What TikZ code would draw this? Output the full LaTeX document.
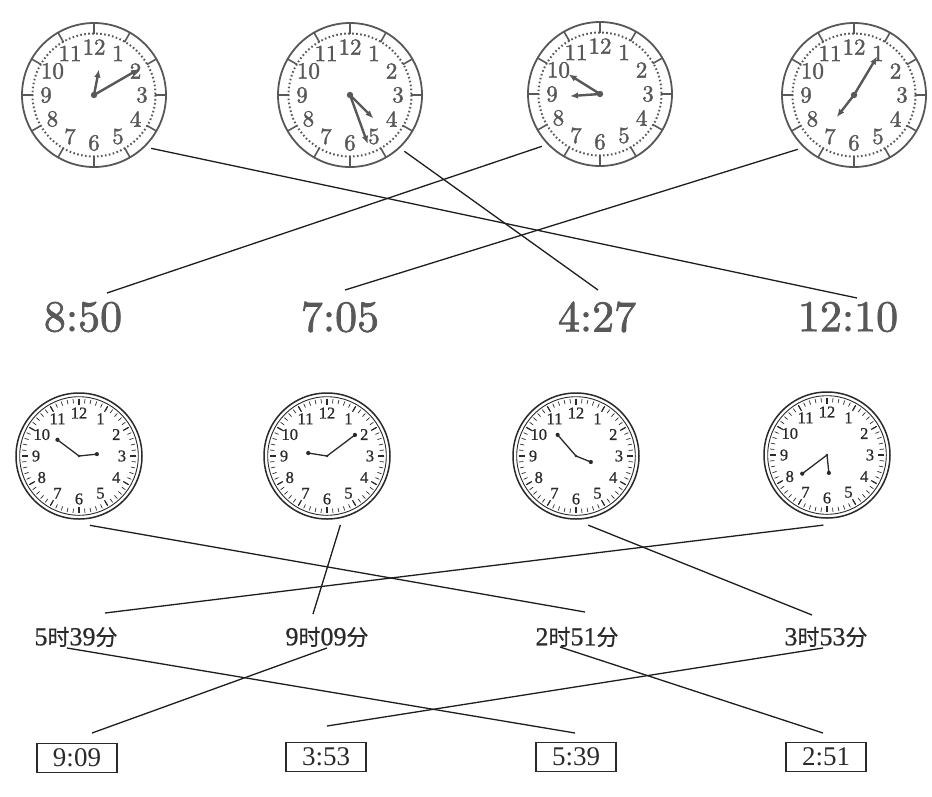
\documentclass[tikz,border=0pt]{standalone}
\usepackage{fontspec}
\newfontfamily\cjk{Noto Sans CJK SC}[FakeBold=0.6]
\newfontfamily\tms{Liberation Serif}
\newfontfamily\tmsh{Liberation Serif}[FakeBold=0.7]
\newfontfamily\heavy{lmroman10-regular.otf}[FakeBold=1.6]
\usetikzlibrary{arrows.meta}
\definecolor{clk}{HTML}{585858}
\definecolor{bk}{HTML}{2A2A2A}
\definecolor{ln}{HTML}{1E1E1E}
\tikzset{
  topnum/.style={text=clk,inner sep=0pt,font=\heavy\fontsize{23}{23}\selectfont},
  botnum/.style={text=bk,inner sep=0pt,font=\tmsh\fontsize{16.5}{16.5}\selectfont},
  tophand/.style={clk,line width=2.4pt,-{Latex[length=8pt,width=6.5pt]}},
  bothand/.style={bk,line width=1.3pt},
  toplabel/.style={text=clk,inner sep=0pt,font=\heavy\fontsize{44}{44}\selectfont},
  cnlabel/.style={text=bk,inner sep=0pt},
  boxlabel/.style={draw=bk,line width=1.2pt,text=bk,minimum width=80pt,minimum height=29pt,inner sep=0pt,font=\tms\fontsize{27}{27}\selectfont},
  link/.style={ln,line width=1.3pt},
  ring/.style={circle,inner sep=0pt,draw=none}
}
\newcommand\topclock[7]{%
  \begin{scope}[shift={(#2,#3)}]
    \node[ring,minimum size=156pt] (#1) at (0,0) {};
    \draw[clk,line width=1.8pt] (0,0) circle (72);
    \draw[clk,line width=2pt,dash pattern=on 1.6pt off 2.4pt] (0,0) circle (61.5);
    \foreach \k in {1,...,12}{
      \draw[clk,line width=1.6pt] (\k*30-90:61) -- (\k*30-90:72);
      \node[topnum] at (\k*30-90:48) {\k};
    }
    \draw[tophand] (0,0) -- (#4-90:#5);
    \draw[tophand] (0,0) -- (#6-90:#7);
    \fill[clk] (0,0) circle (3.2);
  \end{scope}}
\newcommand\botclock[7]{%
  \begin{scope}[shift={(#2,#3)}]
    \node[ring,minimum size=140pt] (#1) at (0,0) {};
    \draw[bk,line width=1.5pt] (0,0) circle (63);
    \draw[bk,line width=0.9pt] (0,0) circle (59.3);
    \foreach \m in {0,...,59}{
      \draw[bk,line width=0.7pt] (\m*6:57.3) -- (\m*6:53);
    }
    \foreach \k in {1,...,12}{
      \draw[bk,line width=1.2pt] (\k*30:57.3) -- (\k*30:51);
      \node[botnum] at (\k*30-90:43) {\k};
    }
    \draw[bothand] (0,0) -- (#4-90:#5);
    \fill[bk] (#4-90:#5) circle (2.1);
    \draw[bothand] (0,0) -- (#6-90:#7);
    \fill[bk] (#6-90:#7) circle (2.1);
    \fill[bk] (0,0) circle (1.3);
  \end{scope}}
\newcommand\cnl[2]{{\tmsh\fontsize{26}{26}\selectfont #1}{\cjk\fontsize{22}{22}\selectfont 时}{\tmsh\fontsize{26}{26}\selectfont #2}{\cjk\fontsize{22}{22}\selectfont 分}}
\begin{document}
\begin{tikzpicture}[x=1pt,y=-1pt]
  \useasboundingbox (0,0) rectangle (932,796);
  \fill[white] (0,0) rectangle (932,796);
  % top clocks: name, cx, cy, hour deg, hour len, minute deg, minute len
  \topclock{c1}{94}{95}{11}{26}{60}{52}
  \topclock{c2}{350}{95}{135}{33}{160}{52}
  \topclock{c3}{600}{94}{266}{30}{302}{37}
  \topclock{c4}{854}{95}{218}{28}{31}{45}
  % top labels
  \node[toplabel] (t850) at (83,317) {8:50};
  \node[toplabel] (t705) at (340,317) {7:05};
  \node[toplabel] (t427) at (597,317) {4:27};
  \node[toplabel] (t1210) at (848,317) {12:10};
  \coordinate (e1210) at (857,298);
  \coordinate (e427) at (598,290);
  \coordinate (e850) at (107,293);
  \coordinate (e705) at (345,290);
  \draw[link] (c1.-43) -- (e1210);
  \draw[link] (c2.-46) -- (e427);
  \draw[link] (c3.-138) -- (e850);
  \draw[link] (c4.-136) -- (e705);
  % bottom clocks
  \botclock{c5}{79}{456}{84}{18}{307}{27}
  \botclock{c6}{327}{456}{279}{19}{53}{35}
  \botclock{c7}{576}{456}{112}{16}{319}{28}
  \botclock{c8}{827}{455}{174}{18}{233}{31}
  % chinese labels
  \node[cnlabel] (l539) at (76,637) {\cnl{5}{39}};
  \node[cnlabel] (l909) at (327,637) {\cnl{9}{09}};
  \node[cnlabel] (l251) at (577,637) {\cnl{2}{51}};
  \node[cnlabel] (l353) at (826,637) {\cnl{3}{53}};
  \coordinate (s251) at (585,612);
  \coordinate (s909) at (313,614);
  \coordinate (s353) at (812,615);
  \coordinate (s539) at (105,613);
  \draw[link] (c5.-81) -- (s251);
  \draw[link] (c6.-79) -- (s909);
  \draw[link] (c7.-80) -- (s353);
  \draw[link] (c8.-93) -- (s539);
  % boxes
  \node[boxlabel] (b909) at (77,758) {9:09};
  \node[boxlabel] (b353) at (326,757) {3:53};
  \node[boxlabel] (b539) at (576,757) {5:39};
  \node[boxlabel] (b251) at (826,757) {2:51};
  \coordinate (u539) at (67,648);
  \coordinate (v539) at (575,733);
  \coordinate (u909) at (327,648);
  \coordinate (v909) at (92,733);
  \coordinate (u251) at (560,647);
  \coordinate (v251) at (823,733);
  \coordinate (u353) at (823,648);
  \coordinate (v353) at (327,726);
  \draw[link] (u539) -- (v539);
  \draw[link] (u909) -- (v909);
  \draw[link] (u251) -- (v251);
  \draw[link] (u353) -- (v353);
\end{tikzpicture}
\end{document}
